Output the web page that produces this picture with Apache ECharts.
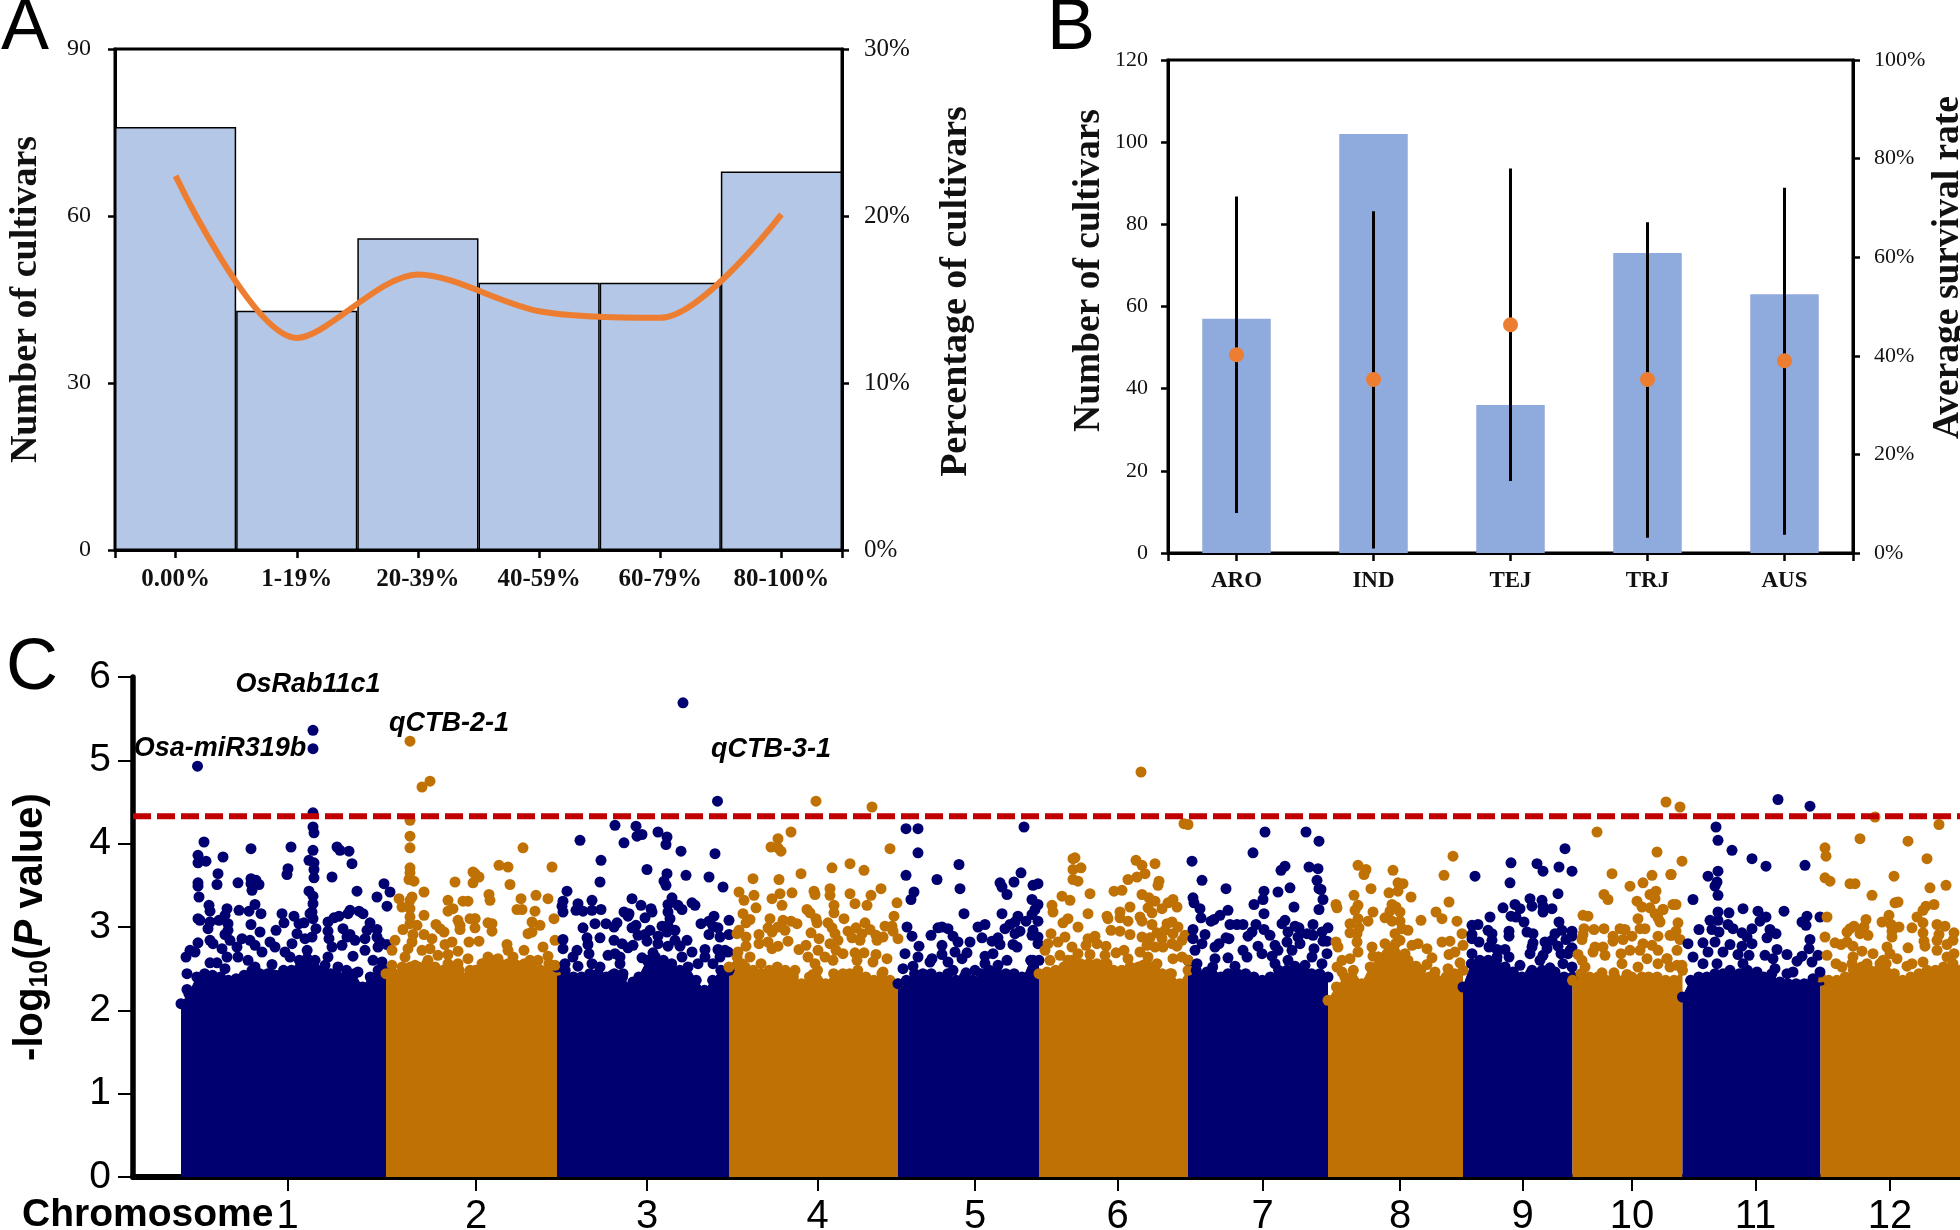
<!DOCTYPE html>
<html><head><meta charset="utf-8">
<style>html,body{margin:0;padding:0;background:#fff}#c{width:1960px;height:1230px}</style>
<script src="https://cdn.jsdelivr.net/npm/echarts@6/dist/echarts.min.js"></script>
</head><body><div id="c"></div>
<script>
// Panel A
const survivalClasses = ['0.00%','1-19%','20-39%','40-59%','60-79%','80-100%'];
const cultivarCounts = [76,43,56,48,48,68];
const cultivarPercent = [22.4,12.7,16.5,14.3,13.9,20.1];
// Panel B
const subgroups = ['ARO','IND','TEJ','TRJ','AUS'];
const subgroupCounts = [57,102,36,73,63];
const survivalMean = [40.2,35.2,46.3,35.2,39.0];
const survivalLow = [8.1,0.9,14.6,3.1,3.7];
const survivalHigh = [72.3,69.3,78.0,67.1,74.1];
// Panel C
const chromNames = ['1','2','3','4','5','6','7','8','9','10','11','12'];
const chromBounds = [48,253,424,596,765,906,1055,1195,1330,1439.5,1549.5,1687.5,1827];
const chromTicks = [154.5,343,514,684.5,842,984.5,1129.5,1267,1389.5,1499,1622.6,1757];
const threshold = 4.33;
const geneNames = ['OsRab11c1','qCTB-2-1','Osa-miR319b','qCTB-3-1'];
const genePos = [[175,5.91],[316,5.44],[87,5.14],[638,5.13]];
// upper edge of the solid band of each chromosome
const chr1Top = [2.08,2.2,2.4,2.44,2.42,2.4,2.36,2.38,2.42,2.48,2.44,2.44,2.42,2.48,2.48,2.6,2.72,2.6,2.48,2.44,2.4,2.48,2.44,2.28,2.4,2.48,2.48];
const chr2Top = [2.44,2.44,2.52,2.52,2.52,2.56,2.48,2.48,2.52,2.48,2.4,2.48,2.56,2.6,2.56,2.56,2.48,2.56,2.56,2.48,2.56,2.48];
const chr3Top = [2.52,2.48,2.4,2.4,2.44,2.44,2.4,2.44,2.4,2.28,2.4,2.6,2.64,2.6,2.56,2.48,2.52,2.36,2.24,2.36,2.48,2.48];
const chr4Top = [2.52,2.64,2.52,2.48,2.44,2.48,2.52,2.48,2.4,2.32,2.4,2.48,2.32,2.44,2.4,2.44,2.48,2.4,2.36,2.44,2.36,2.32];
const chr5Top = [2.32,2.36,2.44,2.44,2.44,2.4,2.44,2.36,2.4,2.36,2.44,2.48,2.44,2.44,2.44,2.36,2.6,2.6];
const chr6Top = [2.44,2.44,2.48,2.52,2.6,2.56,2.56,2.56,2.56,2.48,2.48,2.52,2.52,2.56,2.52,2.4,2.44,2.32,2.48];
const chr7Top = [2.6,2.48,2.42,2.52,2.4,2.38,2.44,2.44,2.4,2.36,2.4,2.48,2.48,2.44,2.48,2.44,2.44,2.4];
const chr8Top = [2.12,2.28,2.4,2.48,2.32,2.52,2.64,2.68,2.8,2.64,2.52,2.48,2.4,2.36,2.4,2.44,2.48];
const chr9Top = [2.28,2.56,2.6,2.6,2.6,2.52,2.44,2.4,2.44,2.4,2.44,2.4,2.4,2.4];
const chr10Top = [2.36,2.44,2.4,2.4,2.36,2.4,2.36,2.4,2.36,2.4,2.4,2.36,2.36,2.48];
const chr11Top = [2.16,2.36,2.4,2.4,2.44,2.44,2.4,2.44,2.48,2.4,2.4,2.44,2.34,2.32,2.32,2.32,2.34,2.36];
const chr12Top = [2.4,2.36,2.36,2.4,2.48,2.52,2.48,2.48,2.56,2.44,2.36,2.4,2.44,2.48,2.48,2.52,2.48,2.48];
// individual markers: [genome position, -log10 P]
const chr1Dots = [[180,5.36],[180,5.14],[64.5,4.93],[180,4.37],[180,4.2],[181,4.13],[71,4.02],[118,3.94],[158,3.96],[204,3.96],[207,3.92],[216,3.91],[180,3.92],[65,3.86],[90,3.84],[73,3.79],[65,3.77],[176,3.8],[181,3.77],[219,3.76],[155,3.7],[181,3.69],[85,3.64],[154,3.63],[199,3.6],[181,3.59],[118,3.58],[65,3.53],[105,3.53],[123,3.56],[126,3.51],[84,3.51],[65,3.49],[118,3.52],[119,3.44],[251,3.52],[257,3.42],[224,3.43],[176,3.43],[180,3.37],[66,3.36],[244,3.36],[254,3.25],[76,3.26],[122,3.27],[180,3.28],[77,3.19],[94,3.22],[106,3.2],[116,3.19],[128,3.16],[149,3.16],[179,3.18],[217,3.2],[226,3.19],[215,3.16],[206,3.13],[201,3.11],[230,3.16],[92,3.14],[161,3.13],[177,3.16],[65,3.1],[67,3.08],[86,3.08],[77,3.06],[95,3.04],[118,3.03],[151,3.05],[166,3.04],[171,3.05],[180,3.1],[195,3.06],[237,3.05],[75,2.98],[95,2.96],[143,2.96],[183,2.98],[210,2.98],[244,2.97],[234,2.96],[127,2.94],[164,2.92],[92,2.91],[195,2.95],[179,2.88],[172,2.86],[217,2.91],[214,2.88],[196,2.86],[222,2.84],[97,2.84],[109,2.86],[117,2.84],[137,2.82],[65,2.81],[77,2.84],[80,2.8],[159,2.8],[232,2.86],[244,2.88],[247,2.82],[254,2.79],[245,2.76],[142,2.76],[89,2.74],[104,2.76],[122,2.78],[129,2.7],[209,2.78],[199,2.76],[57,2.72],[62,2.7],[152,2.7],[232,2.72],[94,2.64],[53,2.64],[195,2.64],[220,2.65],[105,2.64],[115,2.6],[157,2.64],[77,2.57],[84,2.57],[139,2.55],[240,2.6],[249,2.58],[54,2.44],[139,2.43],[205,2.52],[192,2.54],[225,2.46],[122,2.52],[92,2.5],[54,2.25]];
const chr2Dots = [[277,5.23],[289,4.68],[297,4.75],[277,4.28],[277,4.09],[277,3.95],[277,3.71],[277,3.65],[276,3.57],[281,3.55],[322,3.54],[340,3.66],[340,3.53],[291,3.42],[266,3.34],[279,3.36],[277,3.32],[315,3.32],[330,3.31],[335,3.31],[269,3.24],[277,3.22],[320,3.22],[315,3.19],[291,3.14],[277,3.12],[325,3.08],[337,3.1],[342,3.1],[277,3.04],[284,3.02],[303,3.03],[327,3.02],[327,2.97],[307,2.98],[311,2.94],[270,2.97],[291,2.91],[280,2.91],[299,2.86],[262,2.84],[312,2.79],[319,2.82],[336,2.82],[279,2.82],[325,2.71],[297,2.74],[289,2.72],[275,2.74],[305,2.66],[315,2.67],[259,2.72],[272,2.64],[335,2.62],[295,2.6],[259,2.54],[315,2.56],[325,2.56],[337,2.48],[282,2.54],[302,2.52],[390,3.95],[366,3.74],[375,3.72],[419,3.72],[342,3.64],[346,3.6],[377,3.51],[356,3.39],[357,3.32],[403,3.38],[388,3.34],[415,3.34],[384,3.21],[389,3.21],[402,3.19],[421,3.1],[342,3.1],[399,3.06],[407,3.02],[355,3.05],[359,3.04],[359,2.95],[342,2.99],[399,2.94],[395,2.92],[346,2.83],[422,2.84],[374,2.79],[410,2.76],[391,2.72],[375,2.72],[380,2.64],[355,2.64],[365,2.62],[384,2.54],[397,2.6],[415,2.65],[349,2.56],[422,2.54],[405,2.6]];
const chr3Dots = [[550,5.69],[584.5,4.51],[482,4.22],[503,4.21],[525,4.14],[534,4.08],[509,4.11],[504,4.09],[533,3.99],[491,4.01],[447,4.04],[548,3.91],[582,3.88],[468,3.8],[514,3.69],[534,3.64],[553,3.62],[576,3.6],[467,3.54],[531,3.55],[533,3.5],[590,3.48],[434,3.43],[539,3.35],[499,3.34],[430,3.31],[459,3.32],[445,3.28],[429,3.25],[508,3.26],[535,3.27],[545,3.26],[559,3.29],[562,3.26],[549,3.21],[430,3.18],[443,3.2],[450,3.19],[459,3.2],[468,3.21],[518,3.22],[519,3.18],[491,3.18],[496,3.16],[495,3.13],[535,3.18],[512,3.11],[537,3.1],[581,3.13],[576,3.07],[596,3.08],[568,3.04],[462,3.04],[473,3.04],[484,3.05],[481,3],[450,2.99],[503,3.02],[499,2.99],[529,3.01],[535,3.02],[580,3.01],[585,2.99],[517,2.96],[542,2.96],[534,2.94],[576,2.91],[596,2.91],[587,2.88],[505,2.9],[512,2.91],[525,2.89],[430,2.85],[454,2.87],[467,2.87],[514,2.83],[481,2.84],[542,2.84],[554,2.84],[525,2.8],[489,2.8],[500,2.78],[495,2.75],[455,2.79],[535,2.77],[547,2.77],[430,2.74],[444,2.72],[456,2.68],[482,2.68],[559,2.7],[572,2.73],[585,2.73],[592,2.72],[595,2.7],[440,2.64],[475,2.66],[487,2.64],[509,2.63],[520,2.69],[459,2.56],[487,2.56],[445,2.53],[467,2.52],[572,2.64],[587,2.64],[549,2.64],[565,2.56],[580,2.56],[432,2.56],[490,2.44],[479,2.42],[500,2.34]];
const chr4Dots = [[683,4.51],[739,4.44],[638,3.96],[620,3.58],[606,3.42],[621,3.38],[611,3.32],[639,3.34],[623,3.23],[610,3.16],[617,3.09],[613,3.05],[637,3.1],[635,2.99],[606,2.96],[604,2.92],[613,2.88],[626,2.91],[639,2.94],[626,2.8],[635,2.82],[613,2.77],[605,2.7],[617,2.64],[639,2.74],[628,2.56],[609,2.56],[658,4.14],[645,4.06],[645,3.95],[648,3.91],[757,3.94],[717,3.76],[699,3.71],[731,3.68],[668,3.64],[646,3.57],[697,3.46],[681,3.43],[682,3.39],[659,3.41],[647,3.4],[697,3.38],[717,3.4],[748,3.46],[738,3.38],[722,3.28],[734,3.26],[764,3.29],[701,3.26],[649,3.26],[674,3.21],[677,3.17],[701,3.17],[761,3.13],[711,3.1],[683,3.1],[684,3.05],[650,3.08],[658,3.07],[664,3.04],[695,3.05],[699,2.99],[723,2.99],[732,3.05],[752,3.01],[759,3.01],[760,2.95],[737,2.97],[715,2.95],[678,2.93],[652,2.96],[645,3.0],[702,2.92],[729,2.92],[743,2.9],[750,2.88],[719,2.87],[765,2.86],[686,2.86],[655,2.83],[705,2.84],[727,2.84],[744,2.84],[697,2.8],[673,2.78],[666,2.73],[645,2.77],[685,2.72],[703,2.72],[710,2.68],[722,2.69],[731,2.69],[743,2.67],[675,2.64],[692,2.64],[700,2.6],[754,2.62],[740,2.58],[724,2.6],[682,2.56],[662,2.48],[750,2.46],[710,2.44],[680,2.43]];
const chr5Dots = [[773,4.18],[785,4.18],[891,4.2],[785,3.89],[826,3.75],[773,3.62],[888,3.65],[804,3.57],[881,3.54],[867,3.53],[869,3.48],[900,3.5],[905,3.52],[827,3.46],[781,3.42],[874,3.39],[778,3.33],[899,3.33],[905,3.27],[902,3.21],[831,3.16],[869,3.16],[885,3.13],[899,3.15],[882,3.06],[893,3.07],[905,3.07],[774,3],[852,3.03],[845,3],[877,3.03],[872,2.98],[809,3],[805,2.99],[815,2.98],[887,2.95],[882,2.92],[900,2.96],[899,2.9],[779,2.89],[798,2.9],[820,2.89],[849,2.87],[865,2.87],[905,2.88],[809,2.78],[786,2.77],[825,2.82],[837,2.82],[859,2.83],[867,2.79],[880,2.79],[905,2.8],[884,2.76],[822,2.7],[834,2.69],[772,2.68],[785,2.64],[809,2.67],[852,2.65],[860,2.68],[799,2.62],[797,2.58],[815,2.58],[829,2.62],[874,2.6],[780,2.53],[770,2.5],[820,2.48],[842,2.48],[852,2.56],[865,2.54],[889,2.4],[833,2.45],[900,2.6]];
const chr6Dots = [[1008,4.86],[940,3.82],[940,3.69],[940,3.57],[929,3.37],[937,3.32],[919,3.26],[920,3.18],[935,3.1],[930,3.05],[918,2.92],[925,2.82],[915,2.8],[932,2.88],[912,2.72],[927,2.66],[939,2.76],[917,2.6],[935,2.6],[914,2.46],[912,2.32],[1051,4.24],[1055,4.23],[1003,3.8],[1009,3.74],[1022,3.76],[942,3.83],[948,3.71],[1012,3.64],[1004,3.6],[995,3.57],[945,3.55],[1026,3.55],[1025,3.5],[989,3.44],[981,3.43],[957,3.4],[1009,3.39],[1016,3.35],[1022,3.31],[1040,3.33],[1035,3.29],[997,3.24],[1015,3.23],[1029,3.22],[1044,3.24],[987,3.18],[1019,3.17],[955,3.16],[974,3.13],[987,3.11],[975,3.1],[1007,3.12],[995,3.07],[1009,3.07],[1019,3.03],[1039,3.06],[1034,3.04],[1045,3],[945,3],[978,2.96],[987,2.95],[997,2.91],[1024,2.93],[1032,2.96],[1029,2.86],[1040,2.92],[962,2.89],[955,2.86],[1009,2.88],[1017,2.87],[1052,2.9],[1049,2.84],[1039,2.8],[953,2.78],[964,2.8],[973,2.77],[1014,2.78],[1022,2.76],[1030,2.76],[1044,2.77],[1007,2.7],[983,2.69],[991,2.72],[945,2.68],[957,2.67],[972,2.66],[1049,2.64],[1015,2.64],[1024,2.56],[1040,2.62],[995,2.62],[974,2.56],[1037,2.44],[1010,2.54],[1055,2.6],[1029,2.44]];
const chr7Dots = [[1132,4.14],[1173,4.14],[1186,4.03],[1120,3.89],[1059,3.79],[1176,3.72],[1185,3.7],[1152,3.73],[1148,3.68],[1069,3.56],[1184,3.56],[1093,3.46],[1186,3.46],[1157,3.47],[1131,3.43],[1145,3.42],[1188,3.45],[1130,3.33],[1060,3.35],[1190,3.33],[1061,3.29],[1121,3.27],[1161,3.24],[1067,3.22],[1095,3.2],[1186,3.21],[1131,3.16],[1087,3.14],[1068,3.11],[1081,3.09],[1078,3.07],[1152,3.08],[1149,3.04],[1097,3.03],[1104,3.03],[1110,3.03],[1123,3.03],[1180,3.03],[1162,3.01],[1166,2.99],[1195,2.99],[1060,2.97],[1131,2.97],[1155,2.94],[1189,2.94],[1072,2.91],[1119,2.94],[1115,2.89],[1137,2.9],[1180,2.9],[1060,2.86],[1093,2.87],[1096,2.86],[1165,2.88],[1174,2.92],[1190,2.83],[1194,2.83],[1154,2.82],[1086,2.8],[1082,2.76],[1142,2.78],[1167,2.8],[1125,2.77],[1069,2.8],[1062,2.72],[1110,2.72],[1181,2.74],[1159,2.72],[1145,2.72],[1095,2.63],[1114,2.64],[1082,2.62],[1194,2.68],[1179,2.64],[1139,2.65],[1129,2.68],[1064,2.56],[1102,2.53],[1142,2.56],[1162,2.53],[1172,2.54],[1189,2.56],[1074,2.46],[1095,2.44],[1155,2.6]];
const chr8Dots = [[1225,3.74],[1233,3.69],[1231,3.63],[1238,3.46],[1221,3.38],[1203,3.27],[1204,3.23],[1225,3.26],[1240,3.18],[1222,3.2],[1225,3.1],[1235,3.07],[1217,3.04],[1226,2.99],[1217,2.93],[1224,2.92],[1224,2.82],[1203,2.82],[1205,2.76],[1239,2.76],[1240,2.65],[1225,2.7],[1217,2.62],[1209,2.6],[1204,2.52],[1209,2.46],[1207,2.22],[1202,2.1],[1320,3.85],[1260,3.68],[1311,3.62],[1265,3.53],[1270,3.52],[1256,3.41],[1265,3.43],[1278,3.36],[1316,3.3],[1259,3.27],[1263,3.24],[1267,3.18],[1257,3.19],[1303,3.18],[1309,3.1],[1252,3.11],[1259,3.07],[1267,3.07],[1288,3.08],[1324,3.07],[1269,2.98],[1262,2.92],[1275,2.96],[1329,2.92],[1252,2.8],[1285,2.8],[1294,2.74],[1309,2.82],[1317,2.83],[1279,2.78],[1330,2.78],[1267,2.84],[1316,2.67],[1322,2.7],[1299,2.63],[1259,2.74],[1294,2.55],[1245,2.64],[1283,2.53],[1315,2.5],[1327,2.57],[1302,2.46],[1272,2.68],[1275,2.6]];
const chr9Dots = [[1432,3.94],[1378,3.77],[1404,3.76],[1426,3.72],[1410,3.67],[1439,3.67],[1342,3.61],[1377,3.53],[1425,3.4],[1397,3.34],[1409,3.32],[1399,3.25],[1382,3.27],[1370,3.23],[1387,3.22],[1410,3.25],[1419,3.22],[1410,3.18],[1357,3.12],[1378,3.13],[1383,3.12],[1391,3.06],[1426,3.06],[1345,3.03],[1339,3.02],[1355,2.96],[1376,2.95],[1429,2.96],[1394,2.94],[1400,2.92],[1439,2.95],[1422,2.92],[1339,2.91],[1359,2.92],[1376,2.89],[1439,2.89],[1359,2.84],[1339,2.86],[1346,2.82],[1400,2.81],[1412,2.82],[1419,2.84],[1433,2.85],[1356,2.76],[1364,2.73],[1372,2.73],[1399,2.76],[1414,2.74],[1425,2.77],[1439,2.75],[1437,2.72],[1339,2.68],[1397,2.68],[1410,2.66],[1428,2.68],[1435,2.68],[1376,2.64],[1364,2.64],[1407,2.6],[1387,2.54],[1430,2.56],[1439,2.52],[1417,2.51],[1380,2.46],[1409,2.48],[1422,2.46],[1399,2.48]];
const chr10Dots = [[1464,4.14],[1533,4.5],[1524,3.9],[1479,3.64],[1519,3.62],[1538,3.63],[1510,3.53],[1497,3.49],[1471,3.39],[1475,3.33],[1523,3.43],[1517,3.39],[1522,3.34],[1504,3.31],[1509,3.24],[1540,3.27],[1517,3.23],[1530,3.21],[1450,3.14],[1455,3.13],[1522,3.16],[1525,3.11],[1505,3.1],[1527,3.06],[1451,2.98],[1461,2.97],[1471,2.98],[1487,2.98],[1492,2.97],[1507,2.98],[1512,2.98],[1450,2.91],[1480,2.89],[1499,2.89],[1525,2.89],[1537,2.9],[1449,2.85],[1480,2.83],[1490,2.85],[1510,2.8],[1519,2.78],[1462,2.76],[1470,2.76],[1497,2.72],[1525,2.72],[1445,2.67],[1460,2.7],[1488,2.68],[1507,2.72],[1449,2.6],[1472,2.66],[1514,2.62],[1534,2.62],[1489,2.56],[1452,2.52],[1469,2.45],[1481,2.45],[1494,2.43],[1505,2.52],[1525,2.56],[1537,2.52],[1509,2.4],[1547,4.44],[1549,3.79],[1538,3.63],[1543,3.27],[1530,3.21],[1545,3.05],[1543,2.95],[1539,2.9],[1547,2.85],[1544,2.72],[1534,2.62],[1544,2.54],[1549,2.54]];
const chr11Dots = [[1677,4.45],[1645,4.53],[1583,4.2],[1585,4.04],[1599,3.92],[1619,3.82],[1633,3.73],[1672,3.74],[1585,3.67],[1575,3.61],[1584,3.54],[1582,3.49],[1585,3.38],[1560,3.33],[1610,3.22],[1585,3.18],[1596,3.17],[1625,3.19],[1651,3.19],[1633,3.12],[1674,3.13],[1687,3.12],[1577,3.08],[1585,3.08],[1627,3.07],[1595,3.03],[1669,3.06],[1673,3.02],[1566,2.97],[1579,2.97],[1586,2.94],[1600,2.98],[1619,2.98],[1637,2.97],[1643,2.92],[1609,2.93],[1634,2.87],[1677,2.85],[1614,2.88],[1555,2.8],[1570,2.81],[1582,2.82],[1597,2.79],[1609,2.77],[1619,2.8],[1676,2.74],[1575,2.7],[1590,2.7],[1605,2.67],[1632,2.66],[1644,2.73],[1654,2.67],[1685,2.66],[1560,2.64],[1616,2.66],[1640,2.62],[1669,2.65],[1664,2.59],[1679,2.58],[1570,2.56],[1584,2.56],[1624,2.46],[1642,2.5],[1654,2.44],[1680,2.38],[1660,2.46],[1687,2.46],[1597,2.48],[1610,2.56]];
const chr12Dots = [[1742,4.32],[1806,4.23],[1727,4.06],[1775,4.03],[1692,3.95],[1693,3.85],[1794,3.82],[1761,3.61],[1692,3.59],[1697,3.55],[1717,3.52],[1722,3.52],[1797,3.47],[1813,3.5],[1739,3.38],[1762,3.29],[1765,3.3],[1801,3.27],[1793,3.25],[1790,3.2],[1784,3.12],[1694,3.12],[1756,3.14],[1733,3.09],[1749,3.06],[1758,3.03],[1790,3.05],[1804,3.03],[1812,3.01],[1721,3.01],[1717,2.98],[1714,2.94],[1727,2.92],[1731,3],[1766,3],[1779,2.99],[1821,2.93],[1759,2.95],[1790,2.93],[1806,2.91],[1735,2.9],[1692,2.88],[1759,2.88],[1791,2.83],[1820,2.84],[1702,2.81],[1708,2.79],[1714,2.82],[1720,2.77],[1804,2.84],[1792,2.77],[1775,2.75],[1814,2.79],[1754,2.76],[1729,2.71],[1740,2.68],[1821,2.68],[1764,2.62],[1804,2.72],[1694,2.66],[1720,2.64],[1703,2.56],[1709,2.52],[1779,2.56],[1774,2.53],[1790,2.58],[1814,2.64],[1820,2.56],[1734,2.56],[1747,2.56],[1719,2.56],[1757,2.68],[1750,2.6]];

const chromTops = [chr1Top,chr2Top,chr3Top,chr4Top,chr5Top,chr6Top,chr7Top,chr8Top,chr9Top,chr10Top,chr11Top,chr12Top];
const chromDots = [chr1Dots,chr2Dots,chr3Dots,chr4Dots,chr5Dots,chr6Dots,chr7Dots,chr8Dots,chr9Dots,chr10Dots,chr11Dots,chr12Dots];
const NAVY='#000070', GOLD='#bf7104';
const serif='"Liberation Serif","Times New Roman",serif', sans='"Liberation Sans",Arial,sans-serif';

function serifAxis(extra){
  return Object.assign({
    type:'value', splitLine:{show:false}, nameLocation:'middle', nameRotate:90,
    axisLine:{show:true,onZero:false,lineStyle:{color:'#000',width:3}},
    axisTick:{show:true,length:7,lineStyle:{color:'#000',width:2.5}},
    nameTextStyle:{color:'#111',fontFamily:serif,fontWeight:'bold',fontSize:38}
  },extra);
}
function catAxis(grid,names,fs){
  return {type:'category',gridIndex:grid,data:names,position:'bottom',
    axisLine:{show:true,onZero:false,lineStyle:{color:'#000',width:3}},axisTick:{show:false},splitLine:{show:false},
    axisLabel:{color:'#111',fontFamily:serif,fontWeight:'bold',fontSize:fs,margin:17,interval:0}};
}
function tickAxis(grid,n){
  const ticks=[-0.5]; for(let i=0;i<n;i++)ticks.push(i); ticks.push(n-0.5);
  return {type:'value',gridIndex:grid,min:-0.5,max:n-0.5,position:'bottom',
    axisLine:{show:false,onZero:false},splitLine:{show:false},axisLabel:{show:false},
    axisTick:{show:true,length:8,customValues:ticks,lineStyle:{color:'#000',width:2.5}}};
}

const option={
  animation:false, backgroundColor:'#fff',
  grid:[
    {left:115,top:49,width:727,height:501,outerBoundsMode:'none',show:true,borderColor:'#000',borderWidth:3,backgroundColor:'transparent'},
    {left:1168,top:60,width:685,height:493,outerBoundsMode:'none',show:true,borderColor:'#000',borderWidth:3,backgroundColor:'transparent'},
    {left:133,top:677,width:1827,height:500,outerBoundsMode:'none'}
  ],
  xAxis:[
    catAxis(0,survivalClasses,25),
    tickAxis(0,survivalClasses.length),
    catAxis(1,subgroups,23),
    tickAxis(1,subgroups.length),
    {type:'value',gridIndex:2,min:0,max:1827,position:'bottom',splitLine:{show:false},
      axisLine:{show:true,onZero:false,lineStyle:{color:'#000',width:6}},
      axisTick:{show:true,length:14,customValues:chromTicks,lineStyle:{color:'#000',width:2}},
      axisLabel:{customValues:chromTicks,color:'#000',fontFamily:sans,fontSize:40,margin:20,hideOverlap:false,
        showMinLabel:true,showMaxLabel:true,
        formatter:v=>chromNames[chromTicks.indexOf(v)]}}
  ],
  yAxis:[
    serifAxis({gridIndex:0,min:0,max:90,interval:30,position:'left',name:'Number of cultivars',nameGap:70,
      axisLabel:{color:'#111',fontFamily:serif,fontSize:24,margin:24}}),
    serifAxis({gridIndex:0,min:0,max:30,interval:10,position:'right',name:'Percentage of cultivars',nameGap:95,
      axisLabel:{color:'#111',fontFamily:serif,fontSize:25,margin:22,formatter:'{value}%'},
      nameTextStyle:{color:'#111',fontFamily:serif,fontWeight:'bold',fontSize:38,padding:[0,0,0,16]}}),
    serifAxis({gridIndex:1,min:0,max:120,interval:20,position:'left',name:'Number of cultivars',nameGap:60,
      axisLabel:{color:'#111',fontFamily:serif,fontSize:22,margin:20},
      nameTextStyle:{color:'#111',fontFamily:serif,fontWeight:'bold',fontSize:37.5,padding:[0,0,0,72]}}),
    serifAxis({gridIndex:1,min:0,max:100,interval:20,position:'right',name:'Average survival rate',nameGap:72,
      axisLabel:{color:'#111',fontFamily:serif,fontSize:22,margin:21,formatter:'{value}%'},
      nameTextStyle:{color:'#111',fontFamily:serif,fontWeight:'bold',fontSize:37.5,padding:[0,0,0,78]}}),
    {type:'value',gridIndex:2,min:0,max:6,interval:1,position:'left',splitLine:{show:false},
      axisLine:{show:true,onZero:false,lineStyle:{color:'#000',width:5.5}},
      axisTick:{show:true,length:15,lineStyle:{color:'#000',width:2}},
      axisLabel:{color:'#000',fontFamily:sans,fontSize:39,margin:22},
      name:'{a|-log}{s|10}{a|(}{i|P}{a| value)}',nameLocation:'middle',nameRotate:90,nameGap:80,
      nameTextStyle:{rich:{
        a:{fontFamily:sans,fontWeight:'bold',fontSize:40,color:'#000'},
        i:{fontFamily:sans,fontWeight:'bold',fontStyle:'italic',fontSize:40,color:'#000'},
        s:{fontFamily:sans,fontWeight:'bold',fontSize:25,color:'#000',verticalAlign:'bottom',lineHeight:44}
      }}}
  ],
  series:[]
};
option.series.push(
  {type:'bar',xAxisIndex:0,yAxisIndex:0,data:cultivarCounts,barWidth:'100%',
    itemStyle:{color:'#b4c7e7',borderColor:'#000',borderWidth:1.5}},
  {type:'line',xAxisIndex:0,yAxisIndex:1,data:cultivarPercent,smooth:0.3,showSymbol:false,
    lineStyle:{color:'#ed7d31',width:6}},
  {type:'bar',xAxisIndex:2,yAxisIndex:2,data:subgroupCounts,barWidth:'50%',itemStyle:{color:'#8faadc'}},
  {type:'custom',xAxisIndex:2,yAxisIndex:3,z:5,
    data:subgroups.map((s,i)=>[i,survivalLow[i],survivalHigh[i]]),encode:{x:0,y:[1,2]},
    renderItem:(p,api)=>{
      const a=api.coord([api.value(0),api.value(1)]), b=api.coord([api.value(0),api.value(2)]);
      return {type:'line',shape:{x1:a[0],y1:a[1],x2:b[0],y2:b[1]},style:{stroke:'#000',lineWidth:3}};
    }},
  {type:'scatter',xAxisIndex:2,yAxisIndex:3,z:6,data:survivalMean.map((v,i)=>[i,v]),symbolSize:15,
    itemStyle:{color:'#ed7d31',opacity:1}}
);
chromTops.forEach((top,c)=>{
  const col=c%2?GOLD:NAVY, a=chromBounds[c], b=chromBounds[c+1];
  option.series.push({type:'line',xAxisIndex:4,yAxisIndex:4,z:2,
    data:top.map((v,i)=>[a+(b-a)*i/(top.length-1),v]),
    showSymbol:true,showAllSymbol:true,symbol:'circle',symbolSize:11,
    itemStyle:{color:col},lineStyle:{color:col,width:1},areaStyle:{color:col,opacity:1},clip:true});
});
chromDots.forEach((dots,c)=>{
  option.series.push({type:'scatter',xAxisIndex:4,yAxisIndex:4,z:3,data:dots,symbolSize:11,
    itemStyle:{color:c%2?GOLD:NAVY,opacity:1}});
});
option.series.push(
  {type:'line',xAxisIndex:4,yAxisIndex:4,z:4,showSymbol:false,data:[[0,threshold],[1827,threshold]],
    lineStyle:{color:'#c00000',width:6,type:[18,6]}},
  {type:'scatter',xAxisIndex:4,yAxisIndex:4,z:5,symbolSize:1,itemStyle:{color:'rgba(0,0,0,0)',opacity:1},
    data:geneNames.map((n,i)=>({name:n,value:genePos[i]})),
    label:{show:true,position:'inside',formatter:'{b}',color:'#000',opacity:1,fontFamily:sans,fontWeight:'bold',fontStyle:'italic',fontSize:27}}
);
option.graphic=[
  {type:'text',left:1,top:-7,style:{text:'A',fontFamily:sans,fontSize:72,fill:'#000'}},
  {type:'text',left:1047,top:-7,style:{text:'B',fontFamily:sans,fontSize:72,fill:'#000'}},
  {type:'text',left:6,top:633,style:{text:'C',fontFamily:sans,fontSize:72,fill:'#000'}},
  {type:'text',left:22,top:1196,style:{text:'Chromosome',fontFamily:sans,fontWeight:'bold',fontSize:39,fill:'#000'}}
];
echarts.init(document.getElementById('c'),null,{renderer:'canvas'}).setOption(option);
</script></body></html>
